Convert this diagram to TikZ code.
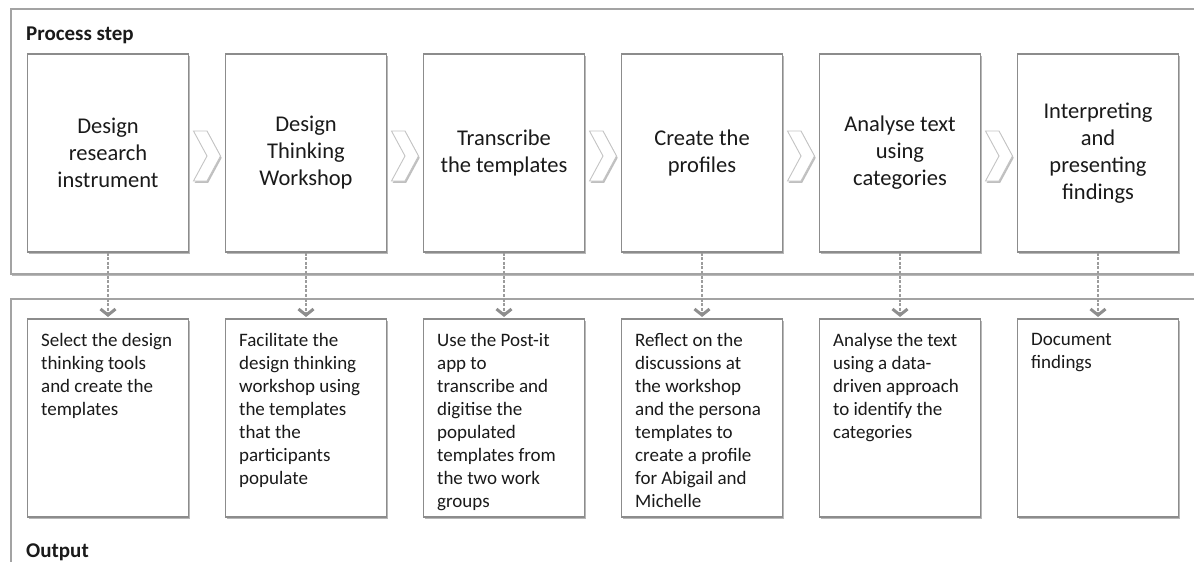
\documentclass[tikz,border=0pt]{standalone}
\usepackage{fontspec}
\setmainfont{Carlito}
\usetikzlibrary{shadows,arrows.meta,calc}
\definecolor{framegray}{HTML}{A3A3A3}
\definecolor{boxgray}{HTML}{8C8C8C}
\definecolor{linkgray}{HTML}{9C9C9C}
\definecolor{tipgray}{HTML}{8E8E8E}
\definecolor{chevgray}{HTML}{C4C4C4}
\definecolor{inkc}{HTML}{1A1A1A}
\begin{document}
\begin{tikzpicture}[x=1pt,y=-1pt,
  softshadow/.style={drop shadow={shadow xshift=1.2pt,shadow yshift=-1.8pt,fill=black,opacity=.28}},
  frame/.style={draw=framegray,line width=1.5pt,fill=white,softshadow},
  stepbox/.style={draw=boxgray,line width=1.1pt,fill=white,softshadow,
    minimum width=161pt,minimum height=198pt,inner sep=0pt,align=center,
    font=\fontsize{22.5}{27}\selectfont,text=inkc},
  outbox/.style={draw=boxgray,line width=1.1pt,fill=white,softshadow,
    minimum width=161pt,minimum height=198pt,inner sep=0pt},
  outtext/.style={anchor=north west,inner sep=0pt,align=left,
    font=\fontsize{19}{23}\selectfont,text=inkc},
  heading/.style={anchor=base west,inner sep=0pt,
    font=\bfseries\fontsize{21}{24}\selectfont,text=inkc},
  link/.style={draw=linkgray,line width=1.4pt,dash pattern=on 3pt off 1.6pt,
    -{Straight Barb[length=6pt,width=15pt,line width=3pt,color=tipgray]},shorten >=1.5pt},
  chev/.pic={
    \path[draw=chevgray,line width=0.9pt,fill=white,line join=miter,
      drop shadow={shadow xshift=1.2pt,shadow yshift=-1.8pt,fill=black,opacity=.25}]
      (-13.5,-25) -- (0,-25) -- (13.5,0) -- (0,25) -- (-13.5,25) -- (0,0) -- cycle;
  }
]
\useasboundingbox (0,0) rectangle (1194,562);
\clip (0,0) rectangle (1194,562);

% the two swim-lane frames, running off the right and bottom edges
\path[frame] (11,9) rectangle (1215,274);
\path[frame] (11,299) rectangle (1215,590);

\node[heading] (lblsteps) at (26,40) {Process step};
\node[heading] (lblout) at (26,557) {Output};

% process steps
\node[stepbox] (s1) at (108,153) {Design\\research\\instrument};
\node[stepbox] (s2) at (306,153) {Design\\Thinking\\Workshop};
\node[stepbox] (s3) at (504,153) {Transcribe\\the templates};
\node[stepbox] (s4) at (702,153) {Create the\\profiles};
\node[stepbox] (s5) at (900,153) {Analyse text\\using\\categories};
\node[stepbox] (s6) at (1098,153) {Interpreting\\and\\presenting\\findings};

% chevrons between consecutive steps
\foreach \a/\b in {s1/s2,s2/s3,s3/s4,s4/s5,s5/s6}
  \pic at ($(\a.east)!0.5!(\b.west)+(0,3)$) {chev};

% outputs
\node[outbox] (o1) at (108,418) {};
\node[outbox] (o2) at (306,418) {};
\node[outbox] (o3) at (504,418) {};
\node[outbox] (o4) at (702,418) {};
\node[outbox] (o5) at (900,418) {};
\node[outbox] (o6) at (1098,418) {};

\node[outtext] (t1) at ($(o1.north west)+(14,15)$) {Select the design\\thinking tools\\and create the\\templates};
\node[outtext] (t2) at ($(o2.north west)+(14,15)$) {Facilitate the\\design thinking\\workshop using\\the templates\\that the\\participants\\populate};
\node[outtext] (t3) at ($(o3.north west)+(14,15)$) {Use the Post-it\\app to\\transcribe and\\digitise the\\populated\\templates from\\the two work\\groups};
\node[outtext] (t4) at ($(o4.north west)+(14,15)$) {Reflect on the\\discussions at\\the workshop\\and the persona\\templates to\\create a profile\\for Abigail and\\Michelle};
\node[outtext] (t5) at ($(o5.north west)+(14,15)$) {Analyse the text\\using a data-\\driven approach\\to identify the\\categories};
\node[outtext] (t6) at ($(o6.north west)+(14,15)$) {Document\\findings};

% step-to-output links
\foreach \i in {1,...,6}
  \draw[link] (s\i.south) -- (o\i.north);
\end{tikzpicture}
\end{document}
